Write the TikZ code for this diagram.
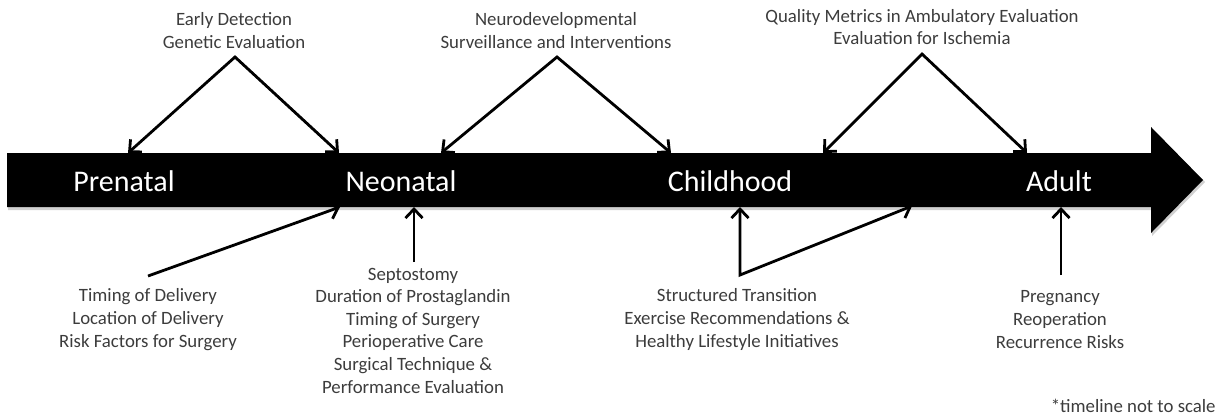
\documentclass[tikz,border=0pt]{standalone}
\usepackage{fontspec}
\setmainfont{Carlito}
\usetikzlibrary{arrows.meta}
\definecolor{txtgray}{HTML}{3C3C3C}
\begin{document}
\begin{tikzpicture}[x=0.5pt,y=-0.5pt,
  note/.style={align=center,text=txtgray,inner sep=0pt,
    font=\fontsize{9.4pt}{11.3pt}\selectfont},
  stage/.style={text=white,inner sep=0pt,font=\fontsize{15pt}{18pt}\selectfont},
  link/.style={line width=1.4pt,line join=miter,
    arrows={Straight Barb[length=4.5pt,width=8.5pt,line width=1.4pt]-Straight Barb[length=4.5pt,width=8.5pt,line width=1.4pt]}},
  onelink/.style={line width=1.4pt,
    -{Straight Barb[length=4.5pt,width=8.5pt,line width=1.4pt]}}]
\useasboundingbox (0,0) rectangle (1229,418);

% timeline arrow with a faint shadow
\fill[black,opacity=0.18] (8,155) -- (1152,155) -- (1152,129) -- (1205,182)
  -- (1152,236) -- (1152,210) -- (8,210) -- cycle;
\fill[black] (7,153) -- (1151,153) -- (1151,127) -- (1203,180)
  -- (1151,233) -- (1151,207) -- (7,207) -- cycle;

% stages
\node[stage] (pre) at (124,181) {Prenatal};
\node[stage] (neo) at (401,181) {Neonatal};
\node[stage] (chi) at (730,181) {Childhood};
\node[stage] (adu) at (1059,181) {Adult};

% notes above the timeline
\node[note] (t1) at (234,30.5) {Early Detection\\Genetic Evaluation};
\node[note] (t2) at (556,30.5) {Neurodevelopmental\\Surveillance and Interventions};
\node[note] (t3) at (922,27) {Quality Metrics in Ambulatory Evaluation\\Evaluation for Ischemia};

% notes below the timeline
\node[note] (b1) at (148,319.5) {Timing of Delivery\\Location of Delivery\\Risk Factors for Surgery};
\node[note] (b2) at (413,330.5) {Septostomy\\Duration of Prostaglandin\\Timing of Surgery\\Perioperative Care\\Surgical Technique \&\\Performance Evaluation};
\node[note] (b3) at (737,319.5) {Structured Transition\\Exercise Recommendations \&\\Healthy Lifestyle Initiatives};
\node[note] (b4) at (1060,319.5) {Pregnancy\\Reoperation\\Recurrence Risks};

\node[note,anchor=east] (foot) at (1216,406) {*timeline not to scale};

% connector points
\coordinate (a1) at (235,57);
\coordinate (a2) at (557,57);
\coordinate (a3) at (922,54);
\coordinate (u1) at (128,153);
\coordinate (u2) at (339,153);
\coordinate (u3) at (441,153);
\coordinate (u4) at (671,153);
\coordinate (u5) at (823,153);
\coordinate (u6) at (1027,153);
\coordinate (s1) at (148,276);
\coordinate (s2) at (414,262);
\coordinate (s3) at (740,275);
\coordinate (s4) at (1061,275);
\coordinate (d1) at (340,207);
\coordinate (d2) at (414,207);
\coordinate (d3) at (740,207);
\coordinate (d4) at (912,206);
\coordinate (d5) at (1061,207);

% connectors
\draw[link] (u1) -- (a1) -- (u2);
\draw[link] (u3) -- (a2) -- (u4);
\draw[link] (u5) -- (a3) -- (u6);
\draw[onelink] (s1) -- (d1);
\draw[onelink] (s2) -- (d2);
\draw[link] (d3) -- (s3) -- (d4);
\draw[onelink] (s4) -- (d5);
\end{tikzpicture}
\end{document}
